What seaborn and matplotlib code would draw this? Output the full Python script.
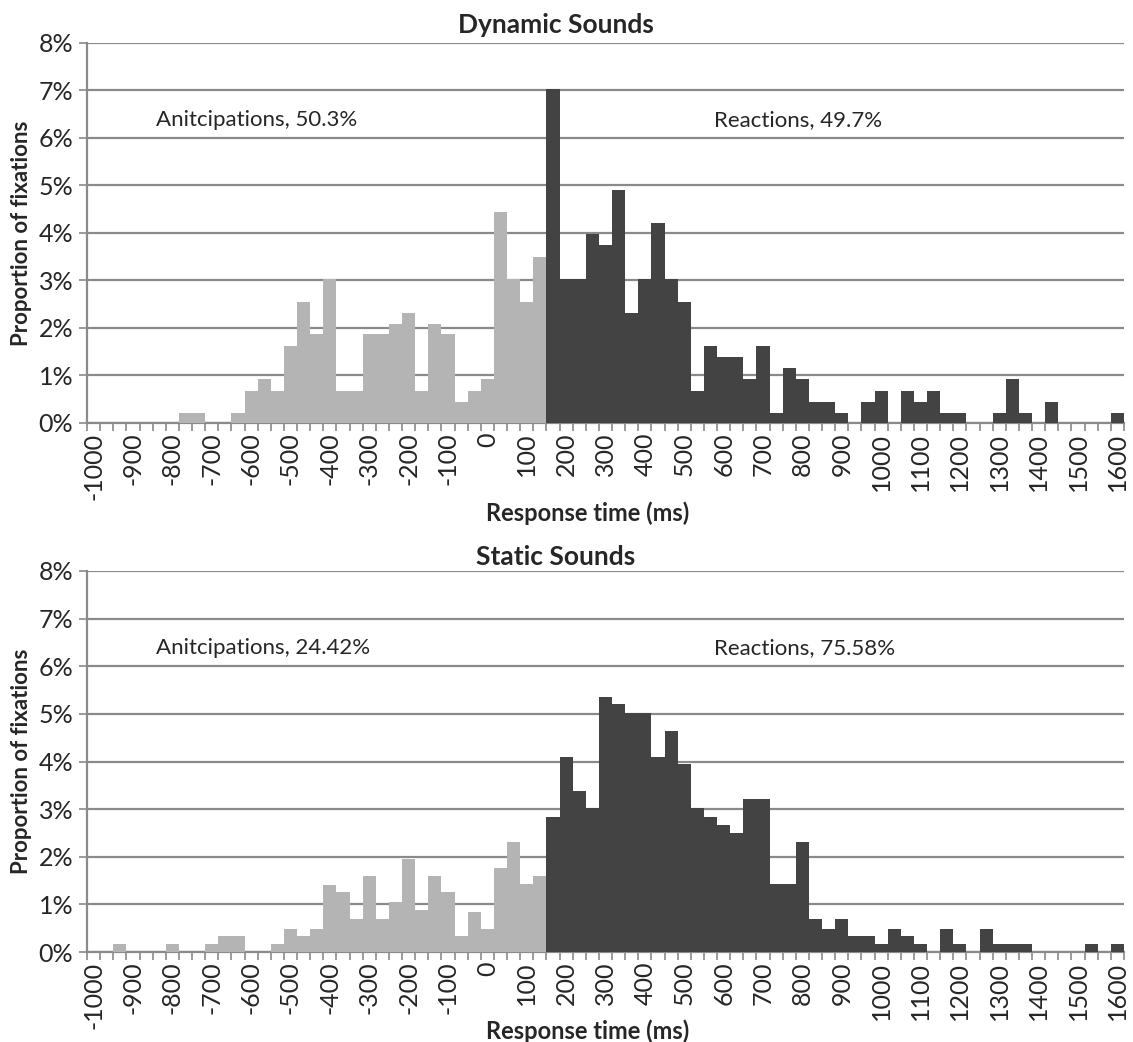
import numpy as np
import pandas as pd
import matplotlib
matplotlib.use("Agg")
import matplotlib.pyplot as plt
import seaborn as sns

# bins of 33.3 ms from -1000 to 1600 ms, one value (% of fixations) per bin
bin_ms = [-1000 + 100 * i / 3 for i in range(79)]
tick_labels = [str(v) for v in range(-1000, 1601, 100)]
first_reaction_bin = 35

dynamic_pct = [
    0, 0, 0, 0, 0, 0, 0, 0.22, 0.22, 0,
    0, 0.22, 0.67, 0.92, 0.67, 1.61, 2.54, 1.87, 3.02, 0.67,
    0.67, 1.87, 1.87, 2.08, 2.31, 0.67, 2.08, 1.87, 0.44, 0.67,
    0.92, 4.43, 3.02, 2.54, 3.49, 7.02, 3.02, 3.02, 3.98, 3.75,
    4.91, 2.32, 3.02, 4.20, 3.02, 2.54, 0.67, 1.61, 1.38, 1.38,
    0.92, 1.61, 0.22, 1.15, 0.92, 0.44, 0.44, 0.22, 0, 0.44,
    0.67, 0, 0.67, 0.44, 0.67, 0.22, 0.22, 0, 0, 0.22,
    0.92, 0.22, 0, 0.44, 0, 0, 0, 0, 0.22,
]
static_pct = [
    0, 0, 0.16, 0, 0, 0, 0.16, 0, 0, 0.16,
    0.33, 0.33, 0, 0, 0.16, 0.49, 0.33, 0.49, 1.40, 1.25,
    0.70, 1.60, 0.70, 1.05, 1.95, 0.88, 1.60, 1.25, 0.33, 0.85,
    0.49, 1.77, 2.31, 1.42, 1.60, 2.84, 4.10, 3.38, 3.03, 5.36,
    5.20, 5.01, 5.01, 4.10, 4.65, 3.94, 3.03, 2.84, 2.66, 2.49,
    3.22, 3.22, 1.42, 1.42, 2.31, 0.70, 0.49, 0.70, 0.33, 0.33,
    0.16, 0.49, 0.33, 0.16, 0, 0.49, 0.16, 0, 0.49, 0.16,
    0.16, 0.16, 0, 0, 0, 0, 0.16, 0, 0.16,
]

panels = [
    ("Dynamic Sounds", dynamic_pct, "Anitcipations, 50.3%", "Reactions, 49.7%"),
    ("Static Sounds", static_pct, "Anitcipations, 24.42%", "Reactions, 75.58%"),
]

sns.set_style("white")
plt.rcParams['font.family'] = ['Lato', 'DejaVu Sans']

fig = plt.figure(figsize=(11.33, 10.42), dpi=100)
W, H = 1133, 1042
grid_col = '#8a8a8a'
palette = {'Anticipation': '#b4b4b4', 'Reaction': '#434343'}

# pixel geometry of the two panels: (top of 8%, 0% line, title baseline, xlabel centre)
geom = [(42.7, 423, 33, 513), (571, 952, 565, 1031)]

for (title, values, left_txt, right_txt), (y8, y0, ytitle, yxlab) in zip(panels, geom):
    ax = fig.add_axes([87 / W, 1 - y0 / H, (1124 - 87) / W, (y0 - y8) / H])
    df = pd.DataFrame({
        'bin': range(len(values)),
        'pct': values,
        'kind': ['Anticipation' if i < first_reaction_bin else 'Reaction' for i in range(len(values))],
    })
    sns.barplot(data=df, x='bin', y='pct', hue='kind', order=list(range(len(values))),
                palette=palette, dodge=False, width=1.0, errorbar=None,
                linewidth=0, legend=False, ax=ax, zorder=3)

    ax.set_xlim(-0.5, len(values) - 0.5)
    ax.set_ylim(0, 8)
    ax.set_yticks(range(0, 9))
    ax.set_yticklabels([f'{v}%' for v in range(0, 9)], fontsize=18)
    ax.yaxis.grid(True, color=grid_col, linewidth=1.6, zorder=0)
    ax.set_axisbelow(True)

    ax.set_xticks(range(0, len(values), 3))
    ax.set_xticklabels(tick_labels, rotation=90, fontsize=18)
    ax.set_xticks(np.arange(-0.5, len(values), 1), minor=True)
    ax.tick_params(axis='x', which='major', length=0, pad=7)
    ax.tick_params(axis='x', which='minor', length=6, width=1.2, color=grid_col, bottom=True)
    ax.tick_params(axis='y', length=6, width=1.2, color=grid_col, left=True, pad=4)

    for side in ['top', 'right']:
        ax.spines[side].set_visible(False)
    for side in ['left', 'bottom']:
        ax.spines[side].set_color(grid_col)
        ax.spines[side].set_linewidth(1.6)
    ax.set_xlabel('')
    ax.set_ylabel('')

    ax.text(0.0665, 6.38 / 8, left_txt, transform=ax.transAxes, fontsize=16, va='center')
    ax.text(0.605, 6.38 / 8, right_txt, transform=ax.transAxes, fontsize=16, va='center')

    fig.text(556 / W, 1 - ytitle / H, title, ha='center', va='baseline', fontsize=19, fontweight='bold')
    fig.text(588 / W, 1 - yxlab / H, 'Response time (ms)', ha='center', va='center',
             fontsize=17, fontweight='bold')
    fig.text(22 / W, 1 - (y8 + y0) / 2 / H, 'Proportion of fixations', rotation=90,
             ha='center', va='center', fontsize=16, fontweight='bold')

fig.savefig('out.png', dpi=100)
